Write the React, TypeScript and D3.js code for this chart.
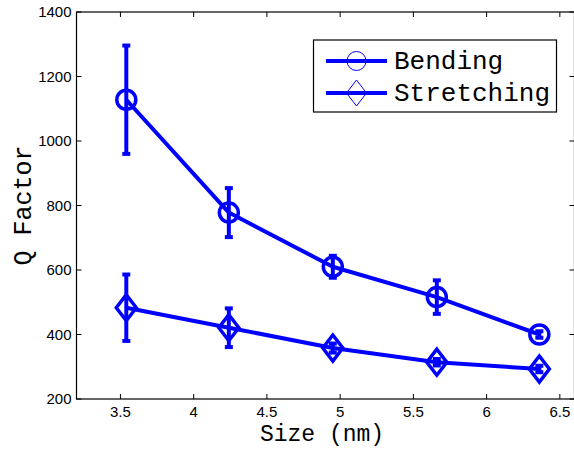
import React from "react";
import * as d3 from "d3";

// Particle size (nm) and quality factors with error half-widths
const sizes = [3.54, 4.24, 4.95, 5.66, 6.36];
const bendingQ = [1128, 778, 610, 516, 400];
const bendingErr = [168, 76, 34, 52, 10];
const stretchingQ = [483, 421, 358, 314, 293];
const stretchingErr = [103, 60, 14, 10, 10];
const xTicks = [3.5, 4, 4.5, 5, 5.5, 6, 6.5];
const yTicks = [200, 400, 600, 800, 1000, 1200, 1400];
const seriesNames = ["Bending", "Stretching"];

const W = 574;
const H = 451;
const BLUE = "#0000ff";
const MONO = "'Liberation Mono', 'DejaVu Sans Mono', monospace";
const SANS = "'Liberation Sans', Arial, sans-serif";

export default function App() {
  const x = d3.scaleLinear().domain([3.2, 6.6]).range([76.5, 574.5]);
  const y = d3.scaleLinear().domain([200, 1400]).range([399, 12]);
  const left = x(3.2);
  const right = x(6.6);
  const top = y(1400);
  const bottom = y(200);

  const line = d3
    .line<[number, number]>()
    .x((d) => x(d[0]))
    .y((d) => y(d[1]));

  const series = [
    { name: seriesNames[0], q: bendingQ, err: bendingErr, marker: "circle" },
    { name: seriesNames[1], q: stretchingQ, err: stretchingErr, marker: "diamond" },
  ];

  const marker = (type: string, cx: number, cy: number, sw: number, key?: string) =>
    type === "circle" ? (
      <circle key={key} cx={cx} cy={cy} r={9.5} fill="none" stroke={BLUE} strokeWidth={sw} />
    ) : (
      <path
        key={key}
        d={`M${cx},${cy - 13} L${cx + 10},${cy} L${cx},${cy + 13} L${cx - 10},${cy} Z`}
        fill="none"
        stroke={BLUE}
        strokeWidth={sw}
        strokeLinejoin="miter"
      />
    );

  return (
    <svg
      width={W}
      height={H}
      style={{ position: "absolute", left: 0, top: 0, background: "#fff" }}
    >
      <rect width={W} height={H} fill="#fff" />

      {/* axes box */}
      <rect
        x={left}
        y={top}
        width={right - left}
        height={bottom - top}
        fill="none"
        stroke="#000"
        strokeWidth={1.2}
      />

      {/* x ticks */}
      {xTicks.map((t) => (
        <g key={"xt" + t}>
          <line x1={x(t)} x2={x(t)} y1={bottom} y2={bottom - 5} stroke="#000" />
          <line x1={x(t)} x2={x(t)} y1={top} y2={top + 5} stroke="#000" />
          <text
            x={x(t)}
            y={bottom + 18}
            textAnchor="middle"
            fontFamily={SANS}
            fontSize={15}
            fill="#000"
          >
            {t}
          </text>
        </g>
      ))}

      {/* y ticks */}
      {yTicks.map((t) => (
        <g key={"yt" + t}>
          <line x1={left} x2={left + 5} y1={y(t)} y2={y(t)} stroke="#000" />
          <line x1={right} x2={right - 5} y1={y(t)} y2={y(t)} stroke="#000" />
          <text
            x={left - 5}
            y={y(t) + 5}
            textAnchor="end"
            fontFamily={SANS}
            fontSize={15}
            fill="#000"
          >
            {t}
          </text>
        </g>
      ))}

      {/* axis labels */}
      <text
        x={322}
        y={441}
        textAnchor="middle"
        fontFamily={MONO}
        fontSize={23}
        fill="#000"
      >
        Size (nm)
      </text>
      <text
        transform={`translate(31, 205.5) rotate(-90)`}
        textAnchor="middle"
        fontFamily={MONO}
        fontSize={25}
        fill="#000"
      >
        Q Factor
      </text>

      {/* data series */}
      {series.map((s) => (
        <g key={s.name}>
          <path
            d={line(sizes.map((v, i) => [v, s.q[i]] as [number, number])) || ""}
            fill="none"
            stroke={BLUE}
            strokeWidth={4}
            strokeLinejoin="round"
          />
          {sizes.map((v, i) => {
            const cx = x(v);
            const y0 = y(s.q[i] - s.err[i]);
            const y1 = y(s.q[i] + s.err[i]);
            return (
              <g key={i}>
                <line x1={cx} x2={cx} y1={y0} y2={y1} stroke={BLUE} strokeWidth={4} />
                <line x1={cx - 4} x2={cx + 4} y1={y0} y2={y0} stroke={BLUE} strokeWidth={4} />
                <line x1={cx - 4} x2={cx + 4} y1={y1} y2={y1} stroke={BLUE} strokeWidth={4} />
                {marker(s.marker, cx, y(s.q[i]), 3.5)}
              </g>
            );
          })}
        </g>
      ))}

      {/* legend */}
      <g>
        <rect x={313.5} y={40} width={243} height={72} fill="#fff" stroke="#000" strokeWidth={1.2} />
        {series.map((s, i) => {
          const ly = 61 + i * 32;
          return (
            <g key={"lg" + s.name}>
              <line x1={326} x2={387} y1={ly} y2={ly} stroke={BLUE} strokeWidth={4} />
              {marker(s.marker, 356.5, ly, 1)}
              <text
                x={394}
                y={ly + 8}
                fontFamily={MONO}
                fontSize={26}
                fill="#000"
              >
                {s.name}
              </text>
            </g>
          );
        })}
      </g>
    </svg>
  );
}
